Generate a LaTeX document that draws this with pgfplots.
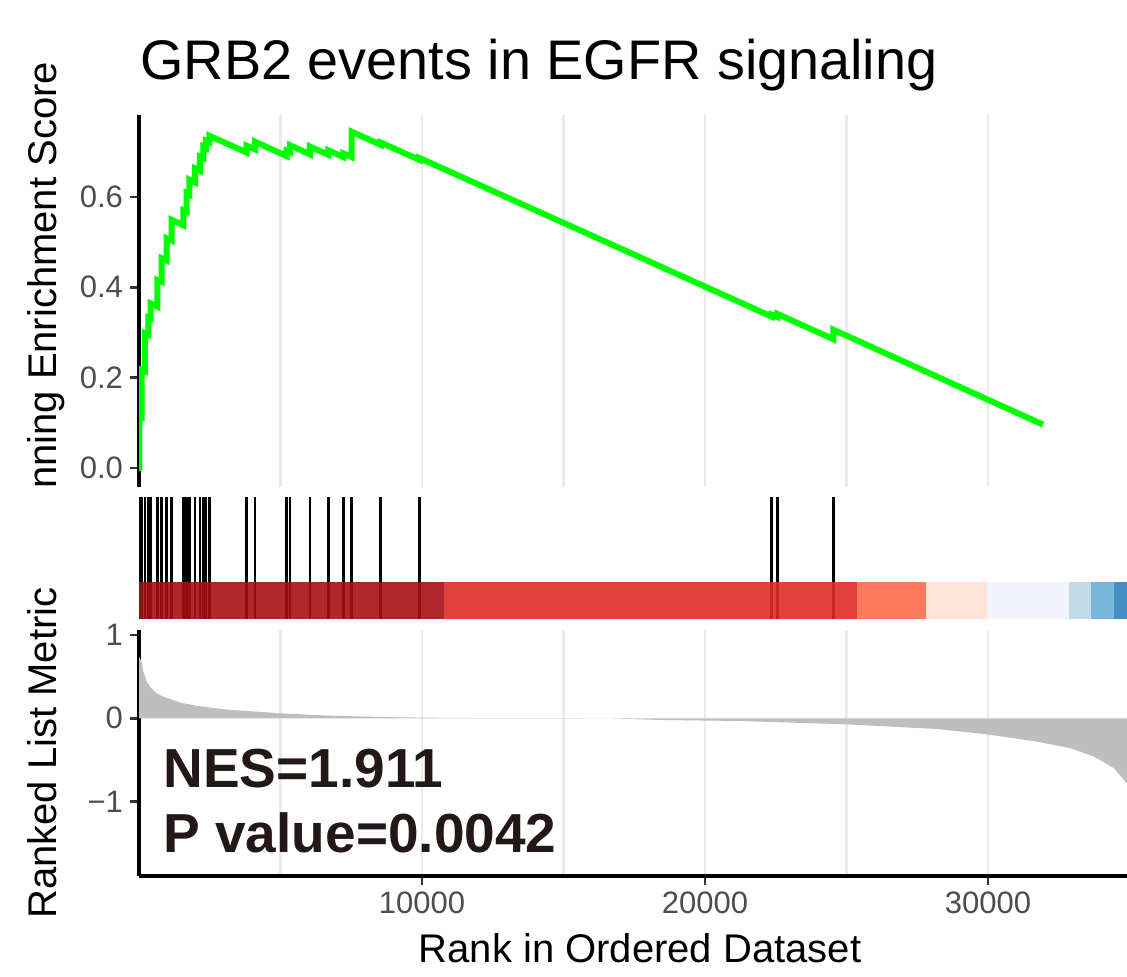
\documentclass[border=0pt]{standalone}
\usepackage{pgfplots}
\pgfplotsset{compat=1.18}
\usepackage{fontspec}
\setmainfont{Liberation Sans}
\definecolor{tickgray}{HTML}{4D4D4D}
\definecolor{gridgray}{HTML}{EBEBEB}
\definecolor{esgreen}{HTML}{00FF00}
\definecolor{metricgray}{HTML}{BEBEBE}
\definecolor{nestext}{HTML}{231815}
\definecolor{rA}{HTML}{A50F15}
\definecolor{rB}{HTML}{DE2D26}
\definecolor{rC}{HTML}{FB6A4A}
\definecolor{rD}{HTML}{FEE0D2}
\definecolor{bA}{HTML}{EFF3FF}
\definecolor{bB}{HTML}{BDD7E7}
\definecolor{bC}{HTML}{6BAED6}
\definecolor{bD}{HTML}{3182BD}
\begin{document}
\begin{tikzpicture}
\useasboundingbox (0,0) rectangle (563.5pt,488.5pt);
\pgfplotsset{
  every axis/.append style={scale only axis, anchor=south west, width=501pt,
    xmin=0, xmax=35406, clip=true, scaled ticks=false},
  tick label style={font=\fontsize{15.5}{18}\selectfont, color=tickgray},
  every axis y label/.style={at={(axis description cs:0,0.5)}, xshift=-41pt,
    anchor=base, rotate=90, font=\fontsize{20}{24}\selectfont},
}
% ---------- top panel: running enrichment score ----------
\begin{axis}[at={(69.5pt,245pt)}, height=186pt,
  ymin=-0.042, ymax=0.781,
  axis lines*=left,
  x axis line style={draw=none},
  y axis line style={line width=1.6pt, black},
  xtick={5000,10000,...,30000}, xticklabels={}, xtick style={draw=none},
  xmajorgrids, major grid style={gridgray, line width=1.4pt},
  ytick={0,0.2,0.4,0.6}, yticklabels={0.0,0.2,0.4,0.6},
  ytick style={line width=1.3pt, color=black!80},
  tick align=outside, major tick length=4.5pt,
  ylabel={Running Enrichment Score},
  title={GRB2 events in EGFR signaling},
  title style={at={(axis description cs:0,1)}, anchor=base west, xshift=0.5pt,
    yshift=11.5pt, inner sep=0pt, font=\fontsize{27.9}{33}\selectfont},
]
\addplot[esgreen, line width=3pt, mark=none] coordinates {
(0,0) (10,0) (10,0.114) (95,0.112) (95,0.217) (212,0.214) (212,0.298)
(329,0.295) (329,0.333) (413,0.331) (413,0.364) (647,0.357) (647,0.416)
(802,0.412) (802,0.464) (979,0.459) (979,0.508) (1155,0.503) (1155,0.549)
(1565,0.537) (1565,0.570) (1686,0.567) (1686,0.608) (1777,0.605) (1777,0.638)
(1979,0.632) (1979,0.663) (2155,0.658) (2155,0.689) (2272,0.686) (2272,0.711)
(2367,0.708) (2367,0.724) (2484,0.721) (2484,0.735) (3806,0.698) (3806,0.713)
(4099,0.705) (4099,0.722) (5219,0.690) (5219,0.702) (5336,0.699) (5336,0.714)
(6042,0.694) (6042,0.711) (6689,0.693) (6689,0.703) (7219,0.688) (7219,0.696)
(7516,0.688) (7516,0.744) (8541,0.715) (8541,0.720) (9904,0.682) (9904,0.686)
(22357,0.335) (22357,0.339) (22555,0.334) (22555,0.341) (24534,0.285)
(24534,0.306) (31943,0.096)
};
\end{axis}
% mask hiding the lower end of the upper y label
\fill[white] (0,173.5pt) rectangle (69pt,245pt);
% ---------- middle panel: hits and colour bar ----------
\begin{axis}[at={(69.5pt,173.5pt)}, height=71.5pt,
  ymin=-11, ymax=132, axis lines=none]
\addplot[ycomb, black, line width=1.3pt, mark=none] coordinates {
(10,122) (95,122) (212,122) (329,122) (413,122) (647,122) (802,122) (979,122)
(1155,122) (1565,122) (1686,122) (1777,122) (1979,122) (2155,122) (2272,122)
(2367,122) (2484,122) (3806,122) (4099,122) (5219,122) (5336,122) (6042,122)
(6689,122) (7219,122) (7516,122) (8541,122) (9904,122) (22357,122) (22555,122)
(24534,122)
};
\addplot[draw=none, fill=rA, fill opacity=0.9] coordinates {(0,37) (10788,37)} \closedcycle;
\addplot[draw=none, fill=rB, fill opacity=0.9] coordinates {(10788,37) (25382,37)} \closedcycle;
\addplot[draw=none, fill=rC, fill opacity=0.9] coordinates {(25382,37) (27800,37)} \closedcycle;
\addplot[draw=none, fill=rD, fill opacity=0.9] coordinates {(27800,37) (29975,37)} \closedcycle;
\addplot[draw=none, fill=bA, fill opacity=0.9] coordinates {(29975,37) (32873,37)} \closedcycle;
\addplot[draw=none, fill=bB, fill opacity=0.9] coordinates {(32873,37) (33640,37)} \closedcycle;
\addplot[draw=none, fill=bC, fill opacity=0.9] coordinates {(33640,37) (34463,37)} \closedcycle;
\addplot[draw=none, fill=bD, fill opacity=0.9] coordinates {(34463,37) (35406,37)} \closedcycle;
\end{axis}
% ---------- bottom panel: ranked list metric ----------
\begin{axis}[at={(69.5pt,50.5pt)}, height=123pt,
  ymin=-1.893, ymax=1.06,
  axis lines*=left,
  axis line style={line width=1.6pt, black},
  xtick={10000,20000,30000}, xticklabels={10000,20000,30000},
  minor xtick={5000,15000,25000},
  xmajorgrids, xminorgrids,
  major grid style={gridgray, line width=1.4pt},
  minor grid style={gridgray, line width=1.4pt},
  minor tick length=0pt,
  ytick={-1,0,1}, yticklabels={−1,0,1},
  tick style={line width=1.3pt, color=black!80},
  tick align=outside, major tick length=4.5pt,
  ylabel={Ranked List Metric},
  xlabel={Rank in Ordered Dataset},
  every axis x label/.style={at={(axis description cs:0.5,0)}, anchor=base,
    yshift=-43.5pt, font=\fontsize{20}{24}\selectfont},
]
\addplot[draw=none, fill=metricgray] coordinates {
(0,0) (0,0.74) (95,0.68) (152,0.56) (272,0.44) (389,0.38) (625,0.30)
(859,0.26) (1449,0.19) (2039,0.15) (3216,0.10) (3806,0.088) (4982,0.06)
(6749,0.031) (9106,0.012) (11226,0.004) (15000,0.001) (16500,0)
(18428,-0.02) (21159,-0.032) (24961,-0.072) (28163,-0.128) (29951,-0.192)
(31731,-0.28) (32919,-0.36) (33746,-0.46) (34452,-0.60) (34912,-0.78)
(35150,-0.95) (35406,-1.25) (35406,0)
} -- cycle;
\node[anchor=base west, inner sep=0pt, color=nestext,
  font=\bfseries\fontsize{27.5}{33}\selectfont] at (axis cs:850,-0.825) {NES=1.911};
\node[anchor=base west, inner sep=0pt, color=nestext,
  font=\bfseries\fontsize{27.5}{33}\selectfont] at (axis cs:850,-1.605) {P value=0.0042};
\end{axis}
\end{tikzpicture}
\end{document}
